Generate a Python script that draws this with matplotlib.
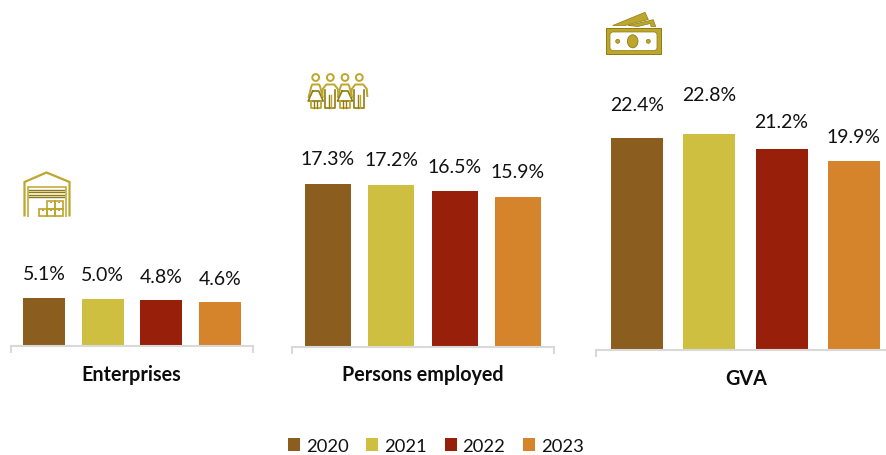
import matplotlib
matplotlib.use("Agg")
import matplotlib.pyplot as plt
from matplotlib.patches import Polygon, Rectangle, Circle, Ellipse, FancyBboxPatch

plt.rcParams['font.family'] = ['Lato', 'DejaVu Sans']

years = ['2020', '2021', '2022', '2023']
colors = ['#8B5D1E', '#CFBF40', '#98200A', '#D5842C']
panel_names = ['Enterprises', 'Persons employed', 'GVA']
enterprises = [5.1, 5.0, 4.8, 4.6]
persons_employed = [17.3, 17.2, 16.5, 15.9]
gva = [22.4, 22.8, 21.2, 19.9]

W, H = 887, 456
ICON = '#BDA62C'
ICON_DARK = '#8F7B12'

fig = plt.figure(figsize=(W / 100, H / 100), dpi=100, facecolor='white')


def panel(values, left, right, baseline, first, spacing, bar_px, px_per_unit, lifts):
    ax = fig.add_axes([left / W, 1 - baseline / H, (right - left) / W, baseline / H])
    ax.set_xlim(-(first - left) / spacing, (right - first) / spacing)
    ax.set_ylim(0, baseline / px_per_unit)
    xs = range(len(values))
    ax.bar(xs, values, width=bar_px / spacing, color=colors, zorder=2)
    for x, v, lift in zip(xs, values, lifts):
        ax.annotate(f'{v:.1f}%', (x, v), xytext=(0, lift), textcoords='offset points',
                    ha='center', va='bottom', fontsize=14, color='#111111')
    for side in ('top', 'left', 'right'):
        ax.spines[side].set_visible(False)
    ax.spines['bottom'].set_color('#D9D9D9')
    ax.spines['bottom'].set_linewidth(1.5)
    ax.set_yticks([])
    ax.set_xticks(ax.get_xlim())
    ax.set_xticklabels([])
    ax.tick_params(axis='x', length=4.8, width=1.5, color='#D9D9D9')
    ax.patch.set_alpha(0)
    return ax


panel(enterprises, 11, 253, 347, 44, 58.67, 42, 9.5, (11, 11, 11, 11))
panel(persons_employed, 292, 554, 347.6, 328, 63.3, 46, 9.42, (12, 12, 12, 12))
panel(gva, 596, 895, 351, 637, 72.3, 52, 9.48, (17.5, 22, 14, 12))

# Pixel-space overlay for the headings and pictograms
ov = fig.add_axes([0, 0, 1, 1], zorder=5)
ov.set_xlim(0, W)
ov.set_ylim(H, 0)
ov.axis('off')

for name, x, y in zip(panel_names, (131.5, 423, 746), (375, 375, 379)):
    ov.text(x, y, name, ha='center', va='center', fontsize=14.2, fontweight='bold', color='#0D0D0D')

# Warehouse pictogram
ov.add_patch(Polygon([(24.5, 217.5), (24.5, 183), (46.5, 173.5), (69.5, 183), (69.5, 217.5)],
                     closed=False, fill=False, ec=ICON, lw=1.6))
ov.add_patch(Polygon([(28, 217.5), (28, 187.5), (66, 187.5), (66, 217.5)],
                     closed=False, fill=False, ec=ICON, lw=1.1))
for y in (190.5, 193, 195.5, 197.5):
    ov.plot([29.5, 64], [y, y], color=ICON_DARK, lw=1.0)
for bx, by, bw, bh in [(47, 202, 8, 7.5), (55, 202, 8, 7.5),
                       (39, 209.5, 8, 7.5), (47, 209.5, 8, 7.5), (55, 209.5, 8, 7.5)]:
    ov.add_patch(Rectangle((bx, by), bw, bh, fill=False, ec=ICON, lw=1.2))
    ov.add_patch(Rectangle((bx + 3, by + 0.5), 1.6, 1.6, fc=ICON, ec='none'))


# People pictograms
def woman(cx):
    ov.add_patch(Circle((cx, 78.5), 3.4, fill=False, ec=ICON, lw=1.4))
    ov.plot([cx - 7, cx - 4.5, cx - 3.5, cx + 3.5, cx + 4.5, cx + 7],
            [98, 88, 85.5, 85.5, 88, 98], color=ICON, lw=1.4)
    ov.plot([cx - 3, cx - 7.5, cx + 7.5, cx + 3, cx - 3],
            [92, 102, 102, 92, 92], color=ICON_DARK, lw=1.2)
    ov.plot([cx - 5, cx - 5, cx + 5, cx + 5], [102, 109, 109, 102], color=ICON, lw=1.3)
    ov.plot([cx - 1.5, cx - 1.5], [102, 109], color=ICON_DARK, lw=1)
    ov.plot([cx + 1.5, cx + 1.5], [102, 109], color=ICON_DARK, lw=1)


def man(cx):
    ov.add_patch(Circle((cx, 78.5), 3.4, fill=False, ec=ICON, lw=1.4))
    ov.plot([cx - 8, cx - 7.5, cx - 4, cx + 4, cx + 7.5, cx + 8],
            [97, 90, 85.5, 85.5, 90, 97], color=ICON, lw=1.4)
    ov.plot([cx - 5, cx - 5, cx + 5, cx + 5], [91, 109, 109, 91], color=ICON_DARK, lw=1.2)
    ov.plot([cx - 1.2, cx - 1.2], [96, 109], color=ICON_DARK, lw=1)
    ov.plot([cx + 1.2, cx + 1.2], [96, 109], color=ICON, lw=1)


woman(315.7)
man(330.3)
woman(345)
man(359.3)

# Banknotes pictogram
ov.add_patch(Polygon([(612.7, 26.5), (645, 13.3), (648.3, 20.5), (625, 26.5)], fc=ICON, ec=ICON_DARK, lw=0.5))
ov.add_patch(Polygon([(628, 26.5), (653.3, 20.7), (655.7, 27.5), (651, 27.5), (650.5, 24.5), (638, 27.5)],
                     fc=ICON, ec=ICON_DARK, lw=0.5))
ov.add_patch(Rectangle((605.7, 29.3), 55, 25.7, fc=ICON, ec=ICON_DARK, lw=0.7))
ov.add_patch(FancyBboxPatch((611.5, 34.5), 44, 15.5, boxstyle='round,pad=1.5,rounding_size=3',
                            fc='white', ec=ICON_DARK, lw=0.5))
ov.add_patch(Ellipse((632.7, 42.3), 10.5, 13, fc=ICON, ec=ICON_DARK, lw=0.6))
for x in (617.7, 648.3):
    ov.add_patch(Circle((x, 42.3), 2, fc=ICON, ec=ICON_DARK, lw=0.5))

handles = [Rectangle((0, 0), 1, 1, fc=c, ec='none') for c in colors]
fig.legend(handles, years, loc='center', bbox_to_anchor=(436 / W, 1 - 447 / H), ncol=4,
           frameon=False, fontsize=13.2, handlelength=0.65, handleheight=0.65,
           handletextpad=0.32, columnspacing=0.98, labelcolor='#111111',
           borderpad=0, borderaxespad=0)

fig.savefig('out.png', dpi=100)
